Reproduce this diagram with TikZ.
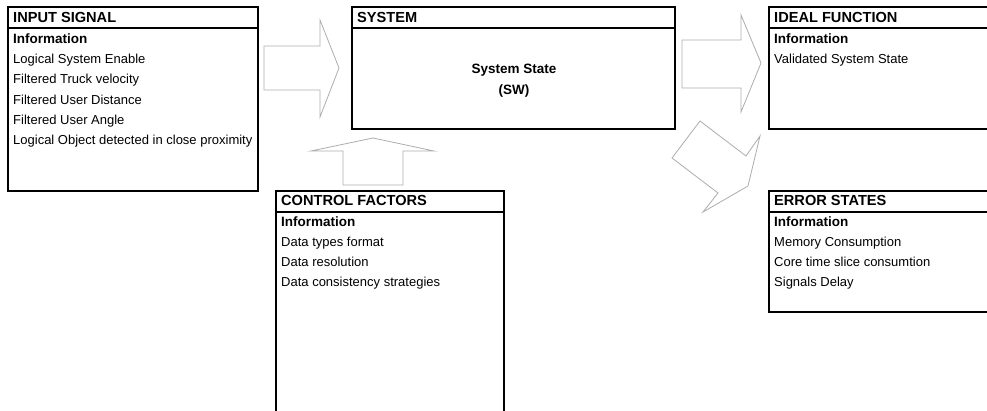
\documentclass[tikz,border=0pt]{standalone}
\usepackage{fontspec}
\setmainfont{Liberation Sans}
\begin{document}
\begin{tikzpicture}[x=1pt,y=-1pt,
  box/.style={draw=black,line width=1.6pt},
  hdr/.style={anchor=base west,inner sep=0pt,font=\fontsize{14.6}{16}\selectfont\bfseries},
  itm/.style={anchor=base west,inner sep=0pt,font=\fontsize{13}{16}\selectfont},
  bitm/.style={anchor=base west,inner sep=0pt,font=\fontsize{13.5}{16}\selectfont\bfseries},
  ctr/.style={anchor=base,inner sep=0pt,font=\fontsize{13.5}{16}\selectfont\bfseries},
  blk/.style={draw=black!32,line width=0.8pt,line join=miter}]
\clip (0,0) rectangle (987,411);
\fill[white] (0,0) rectangle (987,411);

% block arrows
\draw[blk] (264,46) -- (320,46) -- (320,20) -- (339,68) -- (320,117) -- (320,90) -- (264,90) -- cycle;
\draw[blk] (343,185) -- (343,151) -- (311,151) -- (373,138) -- (434,151) -- (403,151) -- (403,185) -- cycle;
\draw[blk] (682,40) -- (741,40) -- (741,15) -- (761,63) -- (741,112) -- (741,88) -- (682,88) -- cycle;
\draw[blk] (700,121) -- (746,156) -- (760,136) -- (748,186) -- (703,212) -- (718,193) -- (672,158) -- cycle;

% INPUT SIGNAL
\draw[box] (8,7) rectangle (258,191);
\draw[box] (8,28) -- (258,28);
\node[hdr] (inh) at (13,23) {INPUT SIGNAL};
\node[bitm] (in0) at (13,43.5) {Information};
\node[itm] (in1) at (13,63.7) {Logical System Enable};
\node[itm] (in2) at (13,83.9) {Filtered Truck velocity};
\node[itm] (in3) at (13,104.1) {Filtered User Distance};
\node[itm] (in4) at (13,124.3) {Filtered User Angle};
\node[itm] (in5) at (13,144.5) {Logical Object detected in close proximity};

% SYSTEM
\draw[box] (352,7) rectangle (675,129);
\draw[box] (352,28) -- (675,28);
\node[hdr] (sysh) at (357,23) {SYSTEM};
\node[ctr] (sys1) at (514,74) {System State};
\node[ctr] (sys2) at (514,95) {(SW)};

% IDEAL FUNCTION
\draw[box] (769,7) rectangle (1000,129);
\draw[box] (769,28) -- (1000,28);
\node[hdr] (idh) at (774,23) {IDEAL FUNCTION};
\node[bitm] (id0) at (774,44) {Information};
\node[itm] (id1) at (774,64) {Validated System State};

% CONTROL FACTORS
\draw[box] (276,191) rectangle (504,425);
\draw[box] (276,212) -- (504,212);
\node[hdr] (cfh) at (281,206) {CONTROL FACTORS};
\node[bitm] (cf0) at (281,226.7) {Information};
\node[itm] (cf1) at (281,246.8) {Data types format};
\node[itm] (cf2) at (281,266.9) {Data resolution};
\node[itm] (cf3) at (281,287) {Data consistency strategies};

% ERROR STATES
\draw[box] (769,191) rectangle (1000,312);
\draw[box] (769,212) -- (1000,212);
\node[hdr] (erh) at (774,206) {ERROR STATES};
\node[bitm] (er0) at (774,226.7) {Information};
\node[itm] (er1) at (774,246.8) {Memory Consumption};
\node[itm] (er2) at (774,266.9) {Core time slice consumtion};
\node[itm] (er3) at (774,287) {Signals Delay};
\end{tikzpicture}
\end{document}
